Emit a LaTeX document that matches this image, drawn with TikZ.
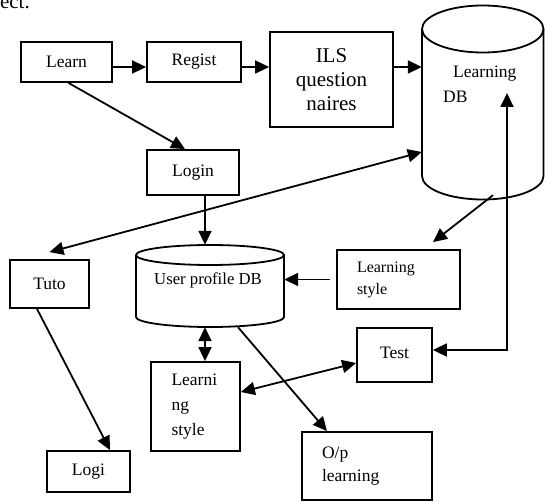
\documentclass[tikz,border=0pt]{standalone}
\usepackage{fontspec}
\setmainfont{Liberation Serif}
\usetikzlibrary{arrows.meta}
\begin{document}
\begin{tikzpicture}[x=1pt,y=-1pt,
  ln/.style={line width=1.8pt},
  bx/.style={draw, line width=1.8pt, inner sep=0pt, align=center},
  arr/.style={line width=1.8pt, -{Triangle[length=14pt,width=13pt]}},
  darr/.style={line width=1.8pt, {Triangle[length=14pt,width=13pt]}-{Triangle[length=14pt,width=13pt]}},
  f17/.style={font=\fontsize{17.5}{25}\selectfont}]
\useasboundingbox (0,0) rectangle (545,502);
% stray text
\node[inner sep=0pt,anchor=base east,font=\fontsize{21}{24}\selectfont] (ect) at (30,9) {ect.};
% boxes
\node[bx,f17,minimum width=91pt,minimum height=40pt] (learn) at (66.5,62) {Learn};
\node[bx,f17,minimum width=94pt,minimum height=40pt] (regist) at (194,62) {Regist};
\node[bx,font=\fontsize{21}{24}\selectfont,minimum width=123pt,minimum height=95pt] (ils) at (331.5,79.5) {ILS\\question\\naires};
\node[bx,f17,minimum width=92pt,minimum height=45pt] (login) at (193,172.5) {Login};
\node[bx,f17,minimum width=79pt,minimum height=48pt] (tuto) at (49.5,284) {Tuto};
\node[bx,f17,minimum width=83pt,minimum height=41pt] (logi) at (88.5,471.5) {Logi};
\node[bx,f17,minimum width=75pt,minimum height=54pt] (test) at (394.5,355) {\raisebox{5pt}{Test}};
\node[bx,f17,align=left,inner xsep=20.5pt,text width=48pt,minimum height=89pt] (lsl) at (195.5,406.5) {Learni\\ng\\style};
\node[bx,font=\fontsize{16}{22}\selectfont,align=left,inner xsep=20pt,text width=83pt,minimum height=59pt] (lsr) at (398.5,279.5) {Learning\\style};
\node[bx,font=\fontsize{17.5}{23}\selectfont,align=left,inner xsep=20pt,text width=90pt,minimum height=68pt] (op) at (367,466) {O/p\\learning};
% Learning DB cylinder
\node[inner sep=0pt,minimum width=121.5pt,minimum height=194pt] (ldb) at (482.75,102.5) {};
\draw[ln] (482.75,29) ellipse [x radius=60.75, y radius=23.5];
\draw[ln] (422,29) -- (422,176) arc[start angle=180,end angle=0,x radius=60.75,y radius=23.5] -- (543.5,29);
\node[inner sep=0pt,anchor=base west,f17] (ldbt1) at (453,78) {Learning};
\node[inner sep=0pt,anchor=base west,f17] (ldbt2) at (443,103) {DB};
% User profile DB cylinder
\node[inner sep=0pt,minimum width=148pt,minimum height=82pt] (updb) at (210,286) {};
\draw[ln] (210,255) ellipse [x radius=74, y radius=10];
\draw[ln] (136,255) -- (136,317) arc[start angle=180,end angle=0,x radius=74,y radius=10] -- (284,255);
\node[font=\fontsize{16.7}{20}\selectfont] (updbt) at (208,280) {User profile DB};
\coordinate (ldbin) at ([shift={(24.25,-9.5)}]ldb.center);
% connectors
\draw[arr] ([yshift=-5pt]learn.east) -- ([yshift=-5pt]regist.west);
\draw[arr] ([yshift=-5pt]regist.east) -- ([yshift=-5pt]regist.east -| ils.west);
\draw[arr] ([yshift=12.5pt]ils.east) -- ([yshift=12.5pt]ils.east -| ldb.west);
\draw[arr] ([xshift=2pt]learn.south) -- ([xshift=-8pt]login.north);
\draw[arr] ([xshift=12pt]login.south) -- ([xshift=12pt]login.south |- updb.north);
\draw[arr] ([xshift=-6pt]lsr.west) -- (lsr.west -| updb.east);
\draw[arr] ([shift={(10.25,-4.5)}]ldb.south) -- ([shift={(34.5,-7)}]lsr.north);
\draw[darr] ([yshift=7pt]tuto.north) -- ([yshift=-49.5pt]ldb.west);
\draw[arr] ([xshift=-12.5pt]tuto.south) -- ([xshift=21.5pt]logi.north);
\draw[darr] ([xshift=9.5pt]lsl.north |- updb.south) -- ([xshift=9.5pt]lsl.north);
\draw[arr] ([xshift=28pt]updb.south) -- ([xshift=-40pt]op.north);
\draw[darr] ([yshift=14.5pt]lsl.east) -- ([yshift=-8pt]test.west);
\draw[darr] ([yshift=5pt]test.east) -| (ldbin);
\end{tikzpicture}
\end{document}
